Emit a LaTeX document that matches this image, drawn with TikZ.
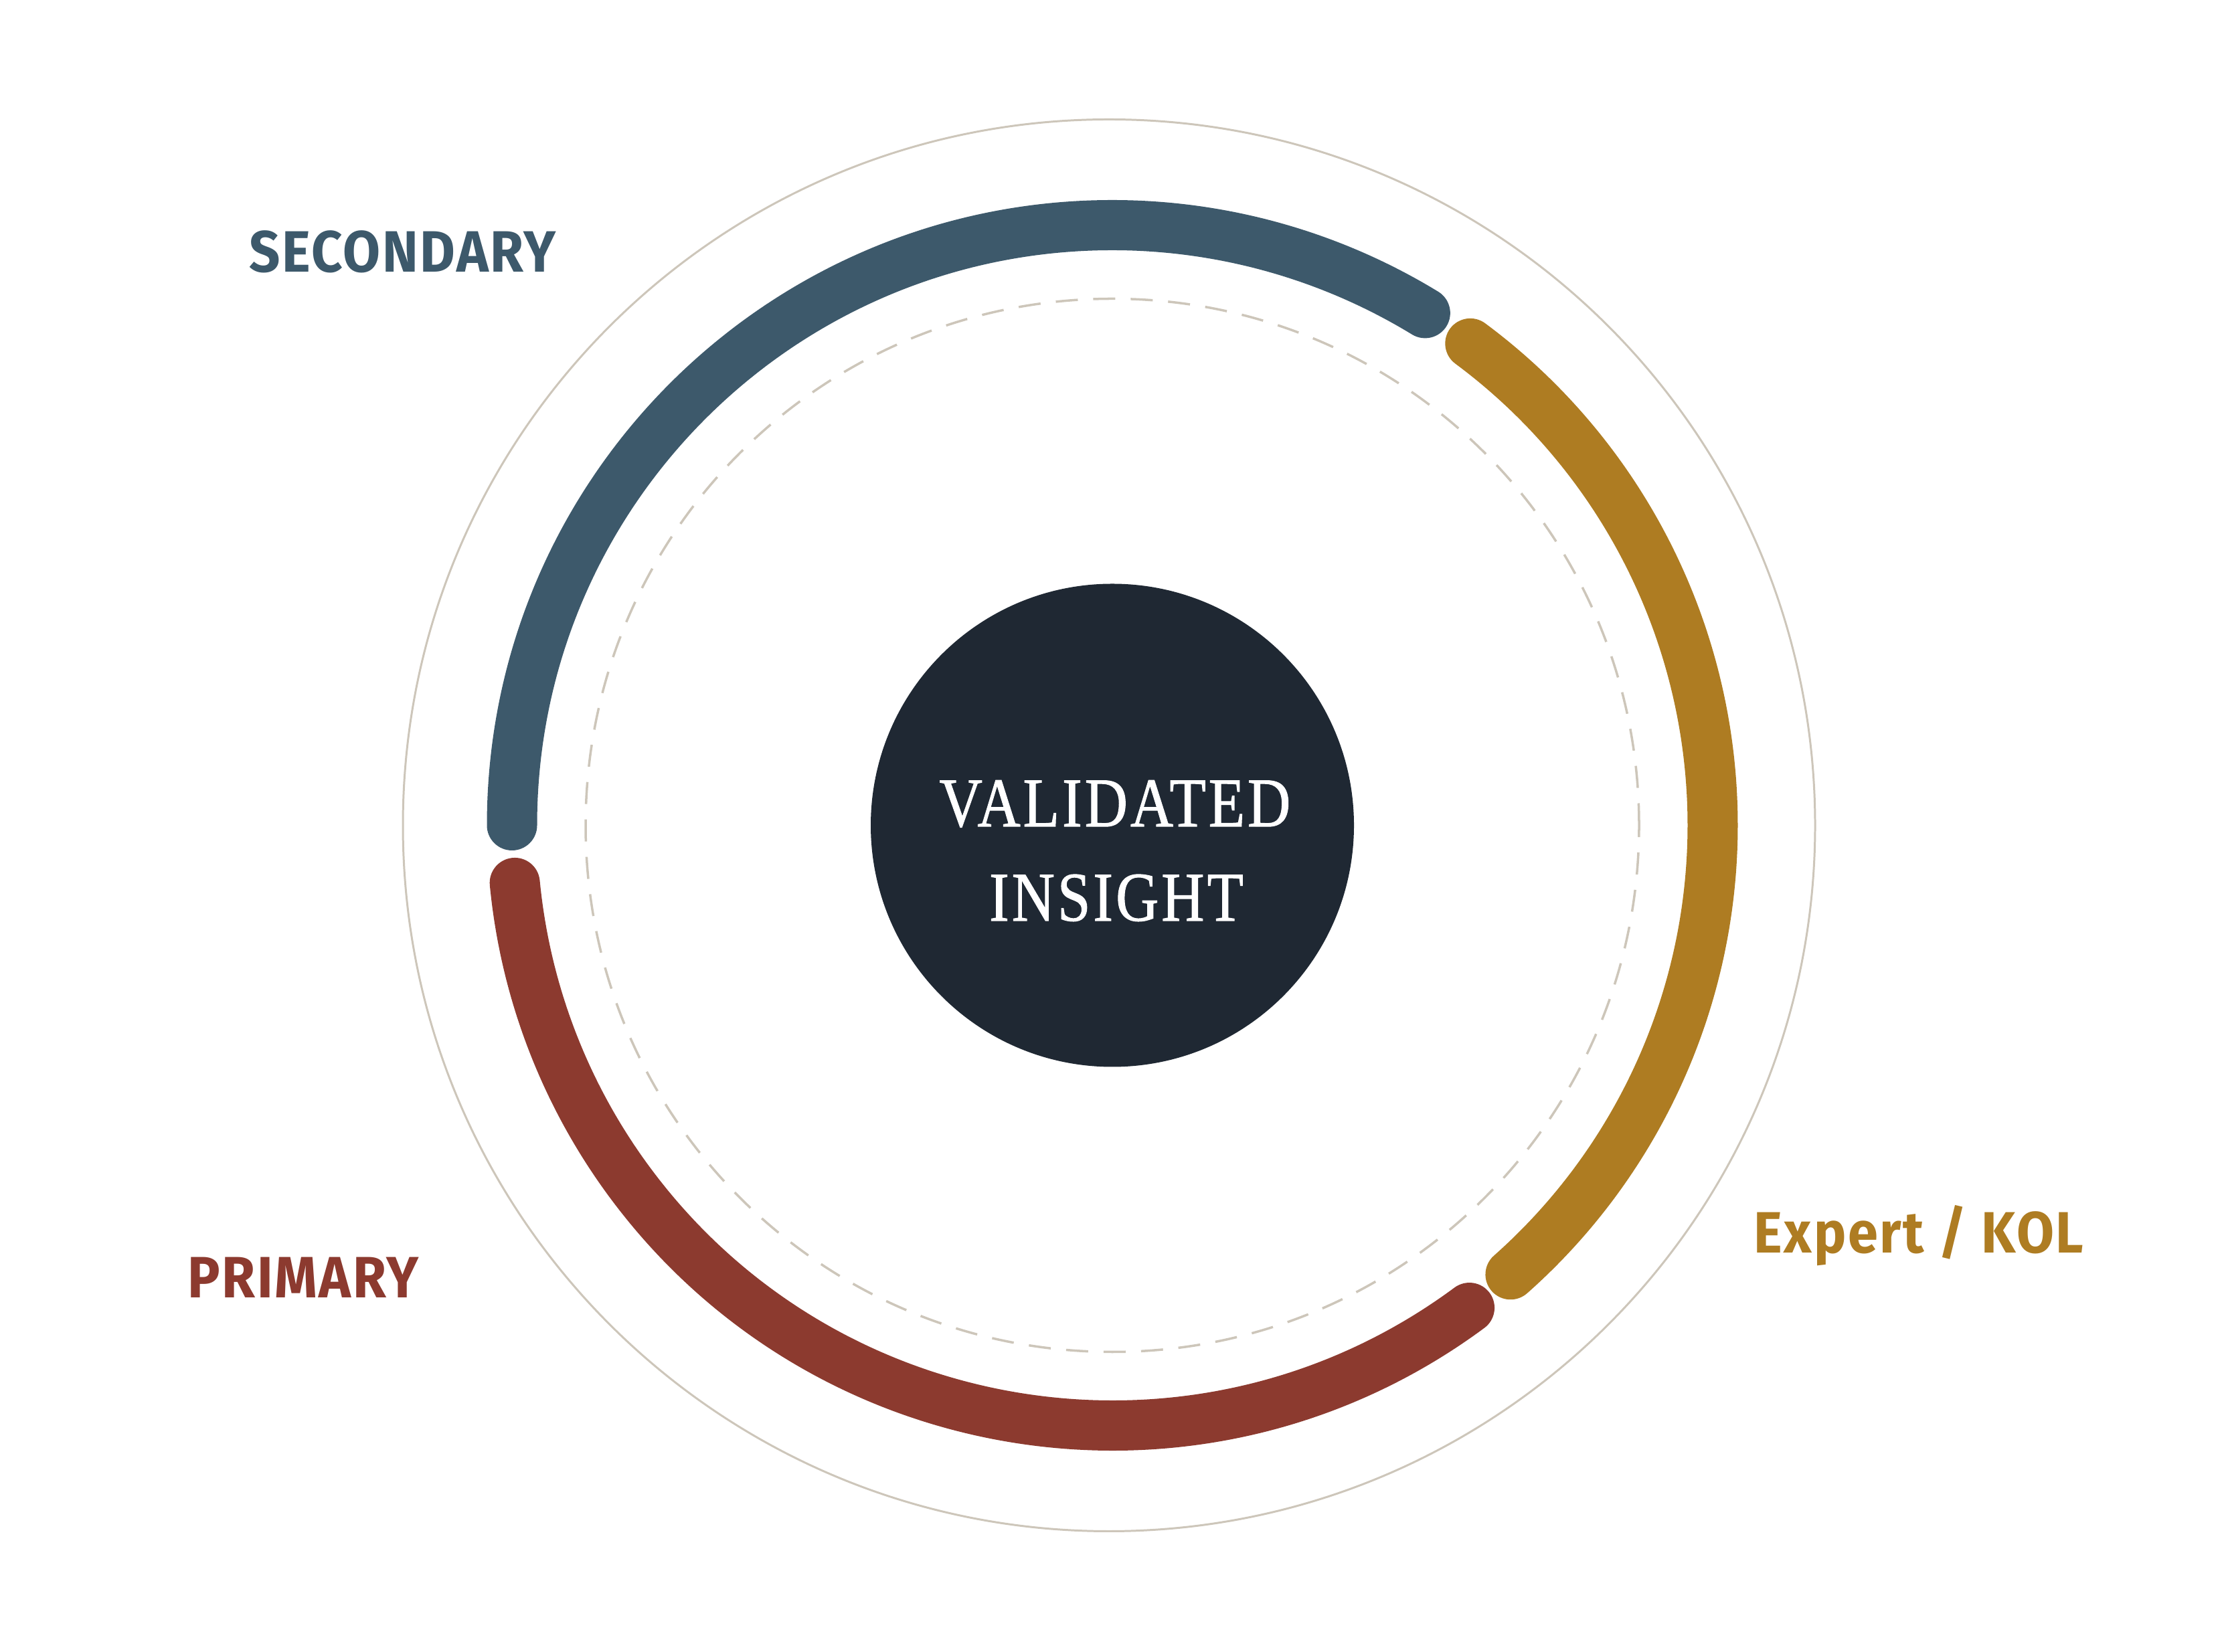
\documentclass[tikz,border=0pt]{standalone}
\usepackage{fontspec}
\usepackage{tikz}
\usetikzlibrary{positioning,calc}
\setmainfont{Liberation Serif}
\newfontfamily\labelfont[LetterSpace=3,FakeStretch=0.93]{Fira Sans}
\newfontfamily\corefont[LetterSpace=4,FakeStretch=0.85,FakeBold=1]{Liberation Serif}
\definecolor{secblue}{HTML}{3D596B}
\definecolor{expgold}{HTML}{AE7C22}
\definecolor{primred}{HTML}{8C3A2F}
\definecolor{hubdark}{HTML}{1F2833}
\definecolor{ringgray}{HTML}{CDC6BA}

\begin{document}
\begin{tikzpicture}[outer sep = 0pt,inner sep = 0pt]
        \tikzset{ring/.style={draw=ringgray,line width=0.85pt}}
        \tikzset{dashring/.style={draw=ringgray,line width=1pt,dash pattern=on 0.33cm off 0.23cm}}
        \tikzset{band/.style={line width=0.75cm,line cap=round}}
        \tikzset{hub/.style={shape=circle,fill=hubdark,minimum size=7.22cm}}
        \tikzset{coretext/.style={text=white,font=\corefont\fontsize{29.7}{40}\selectfont,anchor=base}}
        \tikzset{tag/.style={font=\labelfont\bfseries\fontsize{24.8}{30}\selectfont,anchor=base}}

        \useasboundingbox (0,0) rectangle (33.2,24.68);
        \coordinate (c) at (16.62,12.345);

        \draw [ring] (16.57,12.345) circle [radius=10.55];
        \draw [dashring] (c) circle [radius=7.87];

        \draw [band,secblue] ([shift={(180:8.97)}]c) arc [start angle=180, end angle=58.6, radius=8.97];
        \draw [band,expgold] ([shift={(53.4:8.97)}]c) arc [start angle=53.4, end angle=-48.45, radius=8.97];
        \draw [band,primred] ([shift={(-53.5:8.97)}]c) arc [start angle=-53.5, end angle=-174.5, radius=8.97];

        \node [hub] (hub) at (c) {};
        \node [coretext] (validated) at (16.66,12.33) {VALIDATED};
        \node [coretext] (insight) at (16.68,10.92) {INSIGHT};

        \node [tag,text=secblue] (secondary) at (6.015,20.61) {SECONDARY};
        \node [tag,text=primred] (primary) at (4.53,5.28) {PRIMARY};
        \node [tag,text=expgold] (expert) at (28.67,5.95) {Expert / KOL};

    \end{tikzpicture}
\end{document}
